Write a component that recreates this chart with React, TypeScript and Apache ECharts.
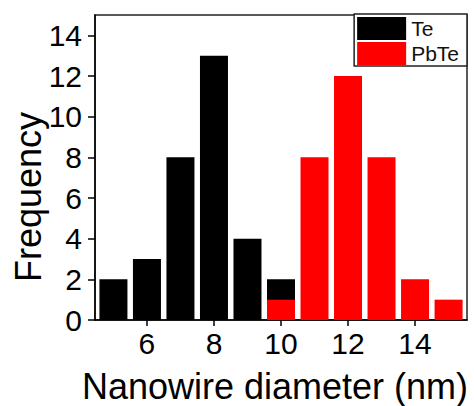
import React, { useEffect, useRef } from "react";
import * as echarts from "echarts";

const teDiameters = [5, 6, 7, 8, 9, 10];
const teCounts = [2, 3, 8, 13, 4, 2];
const pbteDiameters = [10, 11, 12, 13, 14, 15];
const pbteCounts = [1, 8, 12, 8, 2, 1];
const xTicks = [6, 8, 10, 12, 14];
const yTicks = [0, 2, 4, 6, 8, 10, 12, 14];

const FONT = "Arial, 'Liberation Sans', sans-serif";

export default function App() {
  const ref = useRef<HTMLDivElement>(null);
  useEffect(() => {
    if (!ref.current) return;
    const chart = echarts.init(ref.current, undefined, { renderer: "svg" });
    chart.setOption({
      animation: false,
      backgroundColor: "#fff",
      grid: {
        left: 95,
        right: 7,
        top: 15,
        bottom: 86,
        show: true,
        borderColor: "#222",
        borderWidth: 1.5,
        backgroundColor: "transparent",
      },
      legend: {
        right: 7,
        top: 14,
        orient: "vertical",
        itemWidth: 49,
        itemHeight: 23,
        itemGap: 2,
        padding: [3, 8, 1, 3],
        borderColor: "#222",
        borderWidth: 1.5,
        backgroundColor: "#fff",
        icon: "rect",
        textStyle: { fontFamily: FONT, fontSize: 21, color: "#111" },
        data: ["Te", "PbTe"],
      },
      xAxis: {
        type: "value",
        min: 4.45,
        max: 15.55,
        axisLine: { show: true, lineStyle: { color: "#000", width: 1.5 } },
        axisTick: {
          show: true,
          inside: false,
          length: 6,
          customValues: xTicks,
          lineStyle: { color: "#000", width: 1.5 },
        },
        axisLabel: {
          customValues: xTicks,
          margin: 8,
          fontFamily: FONT,
          fontSize: 30,
          color: "#000",
        },
        splitLine: { show: false },
      },
      yAxis: {
        type: "value",
        min: 0,
        max: 15,
        axisLine: { show: true, lineStyle: { color: "#000", width: 1.5 } },
        axisTick: {
          show: true,
          inside: false,
          length: 7,
          customValues: yTicks,
          lineStyle: { color: "#000", width: 1.5 },
        },
        axisLabel: {
          customValues: yTicks,
          margin: 13,
          fontFamily: FONT,
          fontSize: 30,
          color: "#000",
        },
        splitLine: { show: false },
      },
      graphic: [
        {
          type: "text",
          x: 28,
          y: 197,
          rotation: Math.PI / 2,
          style: {
            text: "Frequency",
            fontFamily: FONT,
            fontSize: 36,
            fill: "#000",
            textAlign: "center",
            textVerticalAlign: "middle",
          },
        },
        {
          type: "text",
          x: 275,
          y: 386,
          style: {
            text: "Nanowire diameter (nm)",
            fontFamily: FONT,
            fontSize: 36,
            fill: "#000",
            textAlign: "center",
            textVerticalAlign: "middle",
          },
        },
      ],
      series: [
        {
          name: "Te",
          type: "bar",
          barWidth: 28,
          barGap: "-100%",
          itemStyle: { color: "#000" },
          data: teDiameters.map((d, i) => [d, teCounts[i]]),
        },
        {
          name: "PbTe",
          type: "bar",
          barWidth: 28,
          barGap: "-100%",
          itemStyle: { color: "#ff0000" },
          data: pbteDiameters.map((d, i) => [d, pbteCounts[i]]),
        },
      ],
    });
    return () => chart.dispose();
  }, []);
  return (
    <div
      ref={ref}
      style={{ position: "fixed", left: 0, top: 0, width: 474, height: 406 }}
    />
  );
}
